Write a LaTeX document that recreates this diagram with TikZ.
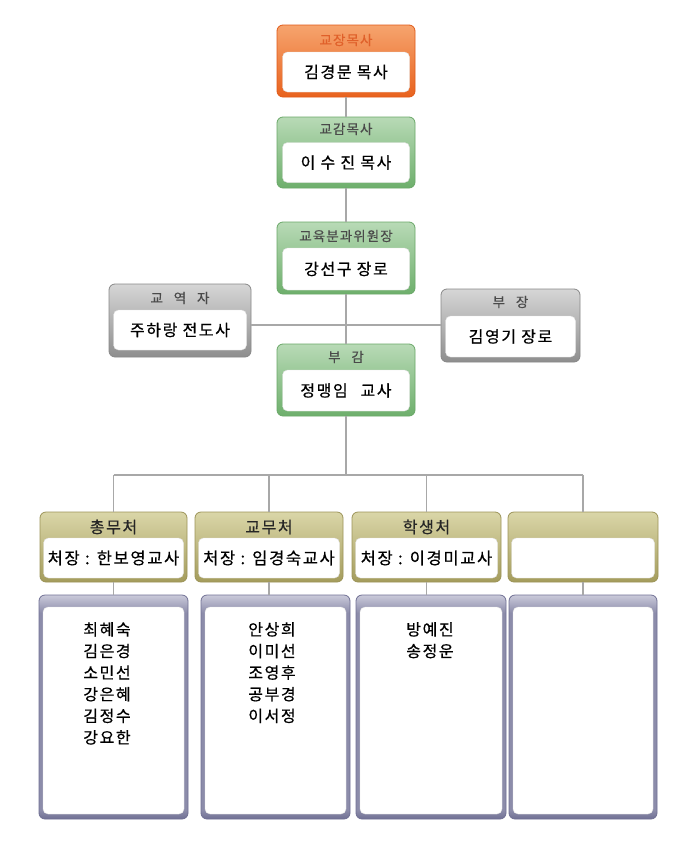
\documentclass[tikz,border=0pt]{standalone}
\usepackage{fontspec}
\setmainfont{Noto Sans CJK KR}
\newfontfamily\krn[LetterSpace=10,FakeBold=0.6]{Noto Sans CJK KR}
\newfontfamily\krh[LetterSpace=8,FakeBold=0.4]{Noto Sans CJK KR}
\definecolor{orT}{HTML}{F6A46E}
\definecolor{orB}{HTML}{E8621E}
\definecolor{orD}{HTML}{E05A18}
\definecolor{grT}{HTML}{B8DAB6}
\definecolor{grB}{HTML}{6EAF6C}
\definecolor{grD}{HTML}{6AA868}
\definecolor{gyT}{HTML}{D6D6D6}
\definecolor{gyB}{HTML}{8E8E8E}
\definecolor{gyD}{HTML}{888888}
\definecolor{olT}{HTML}{DAD6A8}
\definecolor{olB}{HTML}{A49C5C}
\definecolor{olD}{HTML}{9C9458}
\definecolor{lvT}{HTML}{CACADA}
\definecolor{lvM}{HTML}{8C8CAA}
\definecolor{lvD}{HTML}{707094}
\definecolor{conn}{HTML}{A8A8A8}
\definecolor{hdrtxt}{HTML}{4A4A4A}
\definecolor{orhdr}{HTML}{E0602A}
\pgfdeclareverticalshading{lavsh}{100bp}{color(0bp)=(lvD); color(25bp)=(lvD); color(27bp)=(lvM); color(71bp)=(lvM); color(75bp)=(lvT); color(100bp)=(lvT)}
\tikzset{
  ob/.style={rounded corners=6pt, inner sep=0pt, line width=0.8pt},
  orangebox/.style={ob, top color=orT, bottom color=orB, draw=orD},
  greenbox/.style={ob, top color=grT, bottom color=grB, draw=grD},
  graybox/.style={ob, top color=gyT, bottom color=gyB, draw=gyD},
  olivebox/.style={ob, top color=olT, bottom color=olB, draw=olD},
  lavbox/.style={ob, shading=lavsh, draw=lvD},
  wb/.style={fill=white, rounded corners=5pt, inner sep=0pt, draw=black!12, line width=0.4pt},
  hd/.style={font=\krh\fontsize{13.5}{15}\selectfont, text=hdrtxt, inner sep=0pt},
  dhd/.style={font=\krn\fontsize{16}{18}\selectfont, text=black!85, inner sep=0pt},
  nm/.style={font=\krn\fontsize{16}{18}\selectfont, text=black, inner sep=0pt},
  dnm/.style={font=\krn\fontsize{16.5}{18}\selectfont, text=black, inner sep=0pt},
  lst/.style={font=\krn\fontsize{16}{21.6}\selectfont, text=black, align=center, inner sep=0pt, anchor=north},
  cn/.style={draw=conn, line width=1.3pt},
}
\begin{document}
\begin{tikzpicture}[x=1pt,y=-1pt]
\useasboundingbox[fill=white] (0,0) rectangle (685,849);

\coordinate (mid) at (346,325);
\coordinate (bus) at (346,475);

% top column
\node[orangebox, minimum width=138pt, minimum height=72pt] (p1) at (346,61) {};
\node[greenbox, minimum width=138pt, minimum height=71pt] (p2) at (346,152.5) {};
\node[greenbox, minimum width=138pt, minimum height=72pt] (p3) at (346,258) {};
\node[graybox, minimum width=142pt, minimum height=73pt] (pl) at (180,320.5) {};
\node[graybox, minimum width=139pt, minimum height=73pt] (pr) at (510.5,325.5) {};
\node[greenbox, minimum width=138pt, minimum height=72pt] (p4) at (346,380) {};

% dept boxes
\node[olivebox, minimum width=147pt, minimum height=70pt] (d1) at (113.5,547) {};
\node[olivebox, minimum width=148pt, minimum height=70pt] (d2) at (269,547) {};
\node[olivebox, minimum width=149pt, minimum height=70pt] (d3) at (426.5,547) {};
\node[olivebox, minimum width=150pt, minimum height=70pt] (d4) at (583,547) {};

% lower boxes
\node[lavbox, minimum width=149pt, minimum height=224pt] (l1) at (113.5,707) {};
\node[lavbox, minimum width=149pt, minimum height=224pt] (l2) at (275.5,707) {};
\node[lavbox, minimum width=150pt, minimum height=224pt] (l3) at (431,707) {};
\node[lavbox, minimum width=148pt, minimum height=224pt] (l4) at (583,707) {};

% connectors
\draw[cn] (p1.south) -- (p2.north);
\draw[cn] (p2.south) -- (p3.north);
\draw[cn] (p3.south) -- (p4.north);
\draw[cn] (pl.east |- mid) -- (pr.west |- mid);
\draw[cn] (p4.south) -- (bus);
\draw[cn] (d1.north |- bus) -- (d4.north |- bus);
\draw[cn] (d1.north |- bus) -- (d1.north);
\draw[cn] (d2.north |- bus) -- (d2.north);
\draw[cn] (d3.north |- bus) -- (d3.north);
\draw[cn] (d4.north |- bus) -- (d4.north);
\draw[cn] (d1.south) -- (d1.south |- l1.north);
\draw[cn] (d2.south) -- (d2.south |- l2.north);
\draw[cn] (d3.south) -- (d3.south |- l3.north);
\draw[cn] (d4.south) -- (d4.south |- l4.north);

% inner white boxes
\node[wb, minimum width=127pt, minimum height=40pt] (p1w) at (346,72) {};
\node[wb, minimum width=127pt, minimum height=40pt] (p2w) at (346,162.5) {};
\node[wb, minimum width=127pt, minimum height=42pt] (p3w) at (346,269) {};
\node[wb, minimum width=133pt, minimum height=40pt] (plw) at (180,330) {};
\node[wb, minimum width=130pt, minimum height=41pt] (prw) at (510.5,336.5) {};
\node[wb, minimum width=127pt, minimum height=41pt] (p4w) at (346,390.5) {};

\node[wb, minimum width=140pt, minimum height=40pt] (d1w) at (113.5,558) {};
\node[wb, minimum width=141pt, minimum height=40pt] (d2w) at (269,558) {};
\node[wb, minimum width=142pt, minimum height=40pt] (d3w) at (426.5,558) {};
\node[wb, minimum width=143pt, minimum height=40pt] (d4w) at (583,558) {};

\node[wb, minimum width=141pt, minimum height=207pt] (l1w) at (113.5,710.5) {};
\node[wb, minimum width=141pt, minimum height=207pt] (l2w) at (275.5,710.5) {};
\node[wb, minimum width=142pt, minimum height=207pt] (l3w) at (431,710.5) {};
\node[wb, minimum width=140pt, minimum height=207pt] (l4w) at (583,710.5) {};

% headers
\node[hd, text=orhdr] (p1h) at (346,40) {교장목사};
\node[hd] (p2h) at (346,129) {교감목사};
\node[hd] (p3h) at (346,236) {교육분과위원장};
\node[hd] (plh) at (180,298) {교\hspace{0.8em}역\hspace{0.8em}자};
\node[hd] (prh) at (510.5,302) {부\hspace{0.8em}장};
\node[hd] (p4h) at (346,357) {부\hspace{0.8em}감};

\node[dhd] (d1h) at (113.5,527) {총무처};
\node[dhd] (d2h) at (269,527) {교무처};
\node[dhd] (d3h) at (426.5,527) {학생처};

% names
\node[nm] (p1n) at (p1w) {김경문 목사};
\node[nm] (p2n) at (p2w) {이 수 진 목사};
\node[nm] (p3n) at (p3w) {강선구 장로};
\node[nm] (pln) at (plw) {주하랑 전도사};
\node[nm] (prn) at (prw) {김영기 장로};
\node[nm] (p4n) at (p4w) {정맹임\hspace{0.8em}교사};

\node[dnm] (d1n) at (d1w) {처장 : 한보영교사};
\node[dnm] (d2n) at (d2w) {처장 : 임경숙교사};
\node[dnm] (d3n) at (d3w) {처장 : 이경미교사};

\node[lst] (l1n) at (107,622) {최혜숙\\김은경\\소민선\\강은혜\\김정수\\강요한};
\node[lst] (l2n) at (272,622) {안상희\\이미선\\조영후\\공부경\\이서정};
\node[lst] (l3n) at (430,622) {방예진\\송정운};
\end{tikzpicture}
\end{document}
